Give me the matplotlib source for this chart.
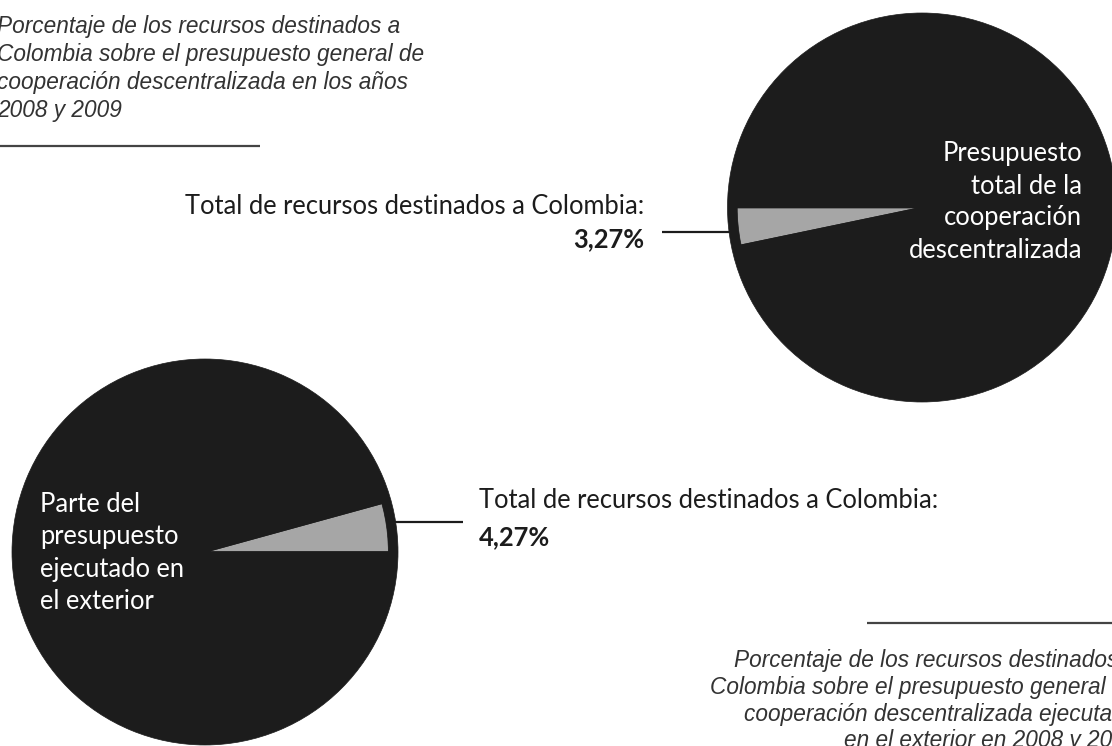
import matplotlib
matplotlib.use('Agg')
import matplotlib.pyplot as plt

# data
pie_top_values = [3.27, 96.73]
pie_top_label = 'Total de recursos destinados a Colombia:'
pie_top_pct = '3,27%'
pie_top_inside = 'Presupuesto\ntotal de la\ncooperación\ndescentralizada'

pie_bot_values = [4.27, 95.73]
pie_bot_label = 'Total de recursos destinados a Colombia:'
pie_bot_pct = '4,27%'
pie_bot_inside = 'Parte del\npresupuesto\nejecutado en\nel exterior'

caption_top = ['Porcentaje de los recursos destinados a',
               'Colombia sobre el presupuesto general de',
               'cooperación descentralizada en los años',
               '2008 y 2009']
caption_bot = ['Porcentaje de los recursos destinados a',
               'Colombia sobre el presupuesto general de',
               'cooperación descentralizada ejecutada',
               'en el exterior en 2008 y 2009']

W, H = 1112, 746
DARK = '#1c1c1c'
GRAY = '#a6a6a6'
CAP = '#333333'
SANS = 'Lato'
FS = 18.4

fig = plt.figure(figsize=(W / 100, H / 100), dpi=100)
fig.patch.set_facecolor('white')


def pie_axes(cx, cy, r):
    # cx, cy, r in pixels, y measured from top
    return fig.add_axes([(cx - r) / W, (H - cy - r) / H, 2 * r / W, 2 * r / H])


def draw_pie(ax, values, start):
    ax.pie(values, colors=[GRAY, DARK], startangle=start, counterclock=True,
           radius=0.955, wedgeprops=dict(edgecolor=DARK, linewidth=1.0))
    # dark rim around the whole pie
    ax.pie([100], colors=[DARK], radius=1.0,
           wedgeprops=dict(width=0.05, edgecolor=DARK, linewidth=0.5))
    ax.set_xlim(-1, 1)
    ax.set_ylim(-1, 1)
    ax.set_aspect('equal')
    ax.axis('off')


ax1 = pie_axes(922, 207.5, 194.5)
draw_pie(ax1, pie_top_values, 180)

ax2 = pie_axes(205, 552, 193)
draw_pie(ax2, pie_bot_values, 0)

# overlay in pixel coordinates for text and lines
ov = fig.add_axes([0, 0, 1, 1])
ov.set_xlim(0, W)
ov.set_ylim(H, 0)
ov.axis('off')
ov.patch.set_alpha(0)

# top-left caption
for i, line in enumerate(caption_top):
    ov.text(-3, 27 + i * 27.7, line, fontsize=16.3, style='italic',
            family='Liberation Sans', color=CAP, ha='left', va='center')
ov.plot([0, 260], [146, 146], color='#444444', lw=1.6, solid_capstyle='butt')

# bottom-right caption (cut at the right edge)
for i, line in enumerate(caption_bot):
    ov.text(1137, 661 + i * 26.5, line, fontsize=16.3, style='italic',
            family='Liberation Sans', color=CAP, ha='right', va='center')
ov.plot([867, W], [623, 623], color='#444444', lw=1.6, solid_capstyle='butt')

# labels with connector lines
ov.text(644, 207, pie_top_label, fontsize=FS, family=SANS, color=DARK,
        ha='right', va='center')
ov.text(644, 239, pie_top_pct, fontsize=FS, family=SANS, weight='bold',
        color=DARK, ha='right', va='center')
ov.plot([662, 732], [232, 232], color=DARK, lw=1.6, solid_capstyle='butt')

ov.text(479, 501, pie_bot_label, fontsize=FS, family=SANS, color=DARK,
        ha='left', va='center')
ov.text(479, 537, pie_bot_pct, fontsize=FS, family=SANS, weight='bold',
        color=DARK, ha='left', va='center')
ov.plot([393, 463], [522, 522], color=DARK, lw=1.6, solid_capstyle='butt')

# text inside the pies
ov.text(1082, 202, pie_top_inside, fontsize=FS, family=SANS, color='white',
        ha='right', va='center', linespacing=1.35)
ov.text(40, 553, pie_bot_inside, fontsize=FS, family=SANS, color='white',
        ha='left', va='center', linespacing=1.38)

fig.savefig('out.png', dpi=100, facecolor='white')
